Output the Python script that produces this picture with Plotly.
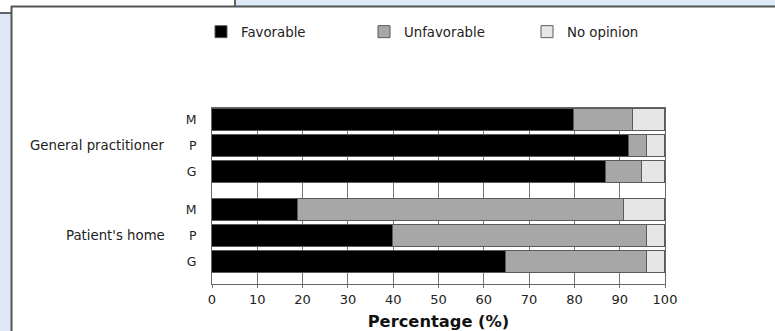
import plotly.graph_objects as go

# ---- data ----
groups = ["General practitioner", "Patient's home"]
subgroups = ["M", "P", "G"]
favorable = [80, 92, 87, 19, 40, 65]
unfavorable = [13, 4, 8, 72, 56, 31]
no_opinion = [7, 4, 5, 9, 4, 4]
series_names = ["Favorable", "Unfavorable", "No opinion"]
series_colors = ["#000000", "#a7a7a7", "#e6e6e6"]
x_ticks = [0, 10, 20, 30, 40, 50, 60, 70, 80, 90, 100]

# ---- layout helpers ----
W, H = 775, 331
ML, MR, MT, MB = 212, 110, 108, 47
PW, PH = W - ML - MR, H - MT - MB
GROUP_GAP = 0.45
FONT = "DejaVu Sans, Liberation Sans, Arial, sans-serif"

def px(x):
    return (x - ML) / PW

def py(y):
    return (H - MB - y) / PH

# category positions (index within group + group offset)
positions = []
tick_text = []
for gi, g in enumerate(groups):
    for si, s in enumerate(subgroups):
        positions.append(gi * (len(subgroups) + GROUP_GAP) + si)
        tick_text.append(s)

fig = go.Figure()
for name, vals, col in zip(series_names, [favorable, unfavorable, no_opinion], series_colors):
    fig.add_trace(go.Bar(
        x=vals, y=positions, orientation="h", name=name,
        marker=dict(color=col, line=dict(color="#5a5a5a", width=1)),
        width=0.84,
    ))

annotations = []
for gi, g in enumerate(groups):
    mid = gi * (len(subgroups) + GROUP_GAP) + 1
    annotations.append(dict(
        text=g, x=px(167), xref="paper", xanchor="right",
        y=mid, yref="y", yanchor="middle", showarrow=False,
        font=dict(size=13.3, color="#222"),
    ))

# window decoration shapes
shapes = [
    dict(type="rect", xref="paper", yref="paper", x0=px(0), x1=px(11), y0=py(331), y1=py(13),
         fillcolor="#dde9f7", line=dict(width=0), layer="below"),
    dict(type="rect", xref="paper", yref="paper", x0=px(235), x1=px(775), y0=py(6), y1=py(0),
         fillcolor="#dde9f6", line=dict(width=0), layer="below"),
    dict(type="line", xref="paper", yref="paper", x0=px(0), x1=px(11), y0=py(13), y1=py(13),
         line=dict(color="#333", width=1.5)),
    dict(type="line", xref="paper", yref="paper", x0=px(235), x1=px(235), y0=py(0), y1=py(6),
         line=dict(color="#333", width=1.5)),
    dict(type="line", xref="paper", yref="paper", x0=px(11.5), x1=px(11.5), y0=py(6), y1=py(331),
         line=dict(color="#555", width=2)),
    dict(type="line", xref="paper", yref="paper", x0=px(11), x1=px(775), y0=py(6.5), y1=py(6.5),
         line=dict(color="#555", width=2)),
]

fig.update_layout(
    width=W, height=H,
    margin=dict(l=ML, r=MR, t=MT, b=MB, autoexpand=False),
    paper_bgcolor="white", plot_bgcolor="white",
    barmode="stack", bargap=0,
    font=dict(family=FONT, size=12, color="#222"),
    showlegend=True,
    legend=dict(
        orientation="h", x=px(201), xanchor="left", y=py(32), yanchor="middle",
        traceorder="normal", entrywidth=118, entrywidthmode="pixels",
        font=dict(size=13.3), bgcolor="rgba(0,0,0,0)",
    ),
    xaxis=dict(
        range=[0, 100], tickvals=x_ticks, showgrid=True, gridcolor="#777", gridwidth=1,
        showline=True, linecolor="#666", linewidth=1, mirror=True,
        ticks="outside", ticklen=3, tickcolor="#777", zeroline=False,
        tickfont=dict(size=13), automargin=False,
        title=dict(text="<b>Percentage (%)</b>", font=dict(size=16.3, color="#111"), standoff=11),
        fixedrange=True,
    ),
    yaxis=dict(
        range=[positions[-1] + 0.85, -0.45], tickvals=positions, ticktext=tick_text,
        showgrid=False, showline=True, linecolor="#666", linewidth=1, mirror=True,
        ticks="", ticklabelstandoff=12, zeroline=False, tickfont=dict(size=12.5),
        automargin=False, fixedrange=True,
    ),
    annotations=annotations,
    shapes=shapes,
)

fig.write_html("out.html", config={"displayModeBar": False},
               post_script="document.body.style.margin='0';")
